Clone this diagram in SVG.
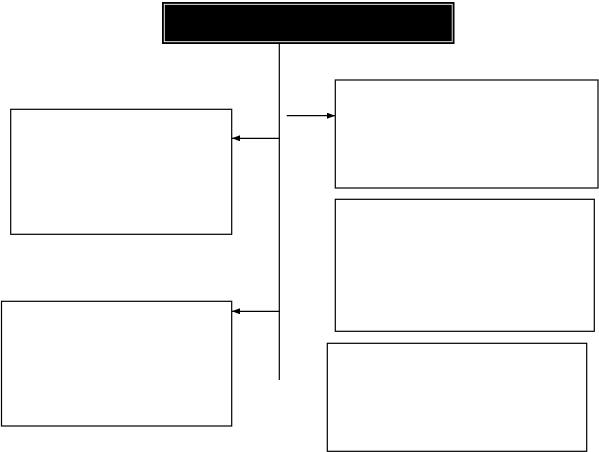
<svg xmlns="http://www.w3.org/2000/svg" width="599" height="452" viewBox="0 0 599 452">
<style>
.box{fill:#fff;stroke:#000;stroke-width:1.2}
.ln{fill:none;stroke:#000;stroke-width:1.2}
</style>
<defs>
<marker id="ah" viewBox="0 0 8 6" refX="8" refY="3" markerWidth="8" markerHeight="6" markerUnits="userSpaceOnUse" orient="auto">
<path d="M0,0 L8,3 L0,6 Z" fill="#000"/>
</marker>
</defs>
<rect width="599" height="452" fill="#fff"/>
<g id="title">
<rect x="162.5" y="2.5" width="291.5" height="41" fill="#000" stroke="#000" stroke-width="1"/>
<rect x="164.3" y="4.3" width="287.9" height="37.4" fill="none" stroke="#fff" stroke-width="0.9"/>
</g>
<g id="left1"><rect class="box" x="10.7" y="109.3" width="221" height="125"/></g>
<g id="left2"><rect class="box" x="1.5" y="301.3" width="230.2" height="124.7"/></g>
<g id="right1"><rect class="box" x="335.3" y="80" width="262.7" height="108"/></g>
<g id="right2"><rect class="box" x="335.3" y="199.3" width="259" height="132"/></g>
<g id="right3"><rect class="box" x="327.3" y="343.3" width="259.4" height="108"/></g>
<g id="connectors">
<line class="ln" x1="279.3" y1="43.5" x2="279.3" y2="380"/>
<line class="ln" x1="279.3" y1="138.3" x2="232" y2="138.3" marker-end="url(#ah)"/>
<line class="ln" x1="279.3" y1="311.3" x2="232" y2="311.3" marker-end="url(#ah)"/>
<line class="ln" x1="286.7" y1="115.7" x2="335" y2="115.7" marker-end="url(#ah)"/>
</g>
</svg>
